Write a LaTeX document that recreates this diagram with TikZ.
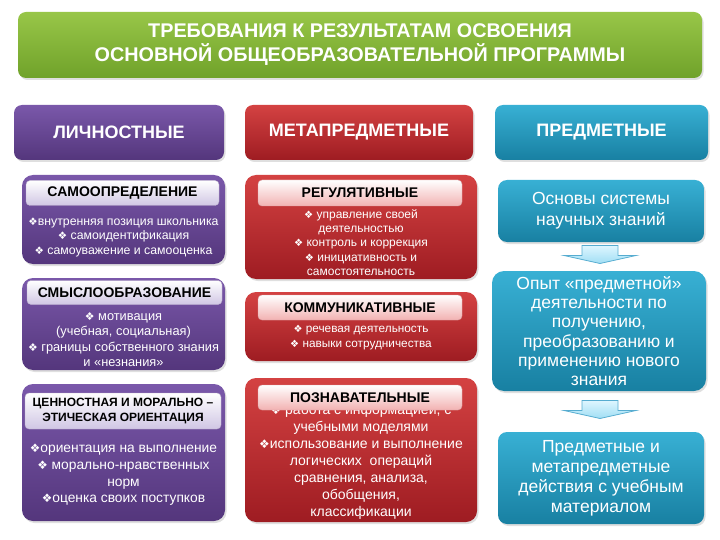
\documentclass[tikz,border=0pt]{standalone}
\usepackage{fontspec}
\setmainfont{Liberation Sans}
\newfontfamily\dejavu{DejaVu Sans}
\usetikzlibrary{calc,shadows}

\definecolor{grntop}{RGB}{152,198,72}
\definecolor{grnbot}{RGB}{112,162,42}
\definecolor{purtop}{RGB}{122,88,170}
\definecolor{purbot}{RGB}{84,54,124}
\definecolor{redtop}{RGB}{212,66,66}
\definecolor{redbot}{RGB}{158,28,34}
\definecolor{blutop}{RGB}{56,176,212}
\definecolor{blubot}{RGB}{24,128,162}
\definecolor{purlab}{RGB}{208,198,228}
\definecolor{redlab}{RGB}{242,178,178}
\definecolor{arrtop}{RGB}{222,246,255}
\definecolor{arrbot}{RGB}{160,222,244}
\definecolor{arrline}{RGB}{86,172,208}

\newcommand{\bul}{\scalebox{0.85}{\dejavu ❖}}

\begin{document}
\begin{tikzpicture}[x=1pt,y=-1pt,
    panel/.style={rounded corners=8pt, align=center, inner sep=0pt,
      drop shadow={shadow xshift=1.5pt,shadow yshift=-2pt,opacity=0.25}},
    titlebox/.style={panel, top color=grntop, bottom color=grnbot, text=white,
      font=\bfseries\fontsize{19.8}{24}\selectfont},
    head/.style={panel, top color=#1top, bottom color=#1bot, text=white,
      minimum height=55pt, font=\bfseries\fontsize{18}{20}\selectfont},
    body/.style={panel, rounded corners=11pt, top color=#1top, bottom color=#1bot},
    tag/.style={rounded corners=4pt, draw=#1bot!40, top color=white, bottom color=#1lab,
      align=center, inner sep=0pt, text=black, font=\bfseries\fontsize{14}{15}\selectfont},
    items/.style={align=center, inner sep=0pt, text=white},
    blockarr/.style={draw=arrline, top color=arrtop, bottom color=arrbot, line width=0.8pt}]
    \useasboundingbox (0,0) rectangle (720,540);
    % Draw the title
    \node[titlebox, minimum width=684pt, minimum height=66pt] (title) at (360,45)
      {ТРЕБОВАНИЯ К РЕЗУЛЬТАТАМ ОСВОЕНИЯ\\ОСНОВНОЙ ОБЩЕОБРАЗОВАТЕЛЬНОЙ ПРОГРАММЫ};
    % Draw the three headers
    \node[head=pur, minimum width=210pt] (lich) at (119,132.5) {ЛИЧНОСТНЫЕ};
    \node[head=red, minimum width=228pt] (meta) at (359,132.5) {МЕТАПРЕДМЕТНЫЕ};
    \node[head=blu, minimum width=213pt] (pred) at (601.5,132.5) {ПРЕДМЕТНЫЕ};

    % Left column
    \node[body=pur, minimum width=203pt, minimum height=89pt] (l1) at (123.5,219.5) {};
    \node[items, font=\fontsize{12.3}{14.5}\selectfont] (l1t) at (123.5,237)
      {\bul внутренняя позиция школьника\\\bul\ самоидентификация\\\bul\ самоуважение и самооценка};
    \node[tag=pur, minimum width=193pt, minimum height=25pt] (l1h) at (122.5,193) {САМООПРЕДЕЛЕНИЕ};

    \node[body=pur, minimum width=203pt, minimum height=92pt] (l2) at (123.5,324) {};
    \node[items, font=\fontsize{12.8}{15.2}\selectfont] (l2t) at (123.5,339.5)
      {\bul\ мотивация\\(учебная, социальная)\\\bul\ границы собственного знания\\и «незнания»};
    \node[tag=pur, minimum width=195pt, minimum height=24pt] (l2h) at (124.5,292.5) {СМЫСЛООБРАЗОВАНИЕ};

    \node[body=pur, minimum width=203pt, minimum height=137pt] (l3) at (123.5,452.5) {};
    \node[items, font=\fontsize{13.8}{16.7}\selectfont] (l3t) at (123.5,475)
      {\bul ориентация на выполнение\\\bul\ морально-нравственных\\норм\\\bul оценка своих поступков};
    \node[tag=pur, minimum width=196pt, minimum height=36pt,
      font=\bfseries\fontsize{12}{15}\selectfont] (l3h) at (123,411)
      {ЦЕННОСТНАЯ И МОРАЛЬНО –\\ЭТИЧЕСКАЯ ОРИЕНТАЦИЯ};

    % Middle column
    \node[body=red, minimum width=232pt, minimum height=104pt] (m1) at (361,227) {};
    \node[items, font=\fontsize{12}{14.2}\selectfont] (m1t) at (361,242.5)
      {\bul\ управление своей\\деятельностью\\\bul\ контроль и коррекция\\\bul\ инициативность и\\самостоятельность};
    \node[tag=red, minimum width=204pt, minimum height=26pt] (m1h) at (360,193) {РЕГУЛЯТИВНЫЕ};

    \node[body=red, minimum width=232pt, minimum height=69pt] (m2) at (361,326.5) {};
    \node[items, font=\fontsize{11.8}{15}\selectfont] (m2t) at (361,338)
      {\bul\ речевая деятельность\\\bul\ навыки сотрудничества};
    \node[tag=red, minimum width=204pt, minimum height=25pt] (m2h) at (360,307.5) {КОММУНИКАТИВНЫЕ};

    \node[body=red, minimum width=232pt, minimum height=144pt] (m3) at (361,450) {};
    \node[items, font=\fontsize{14}{17}\selectfont] (m3t) at (361,462)
      {\bul\ работа с информацией, с\\учебными моделями\\\bul использование и выполнение\\логических\ \ операций\\сравнения, анализа,\\обобщения,\\классификации};
    \node[tag=red, minimum width=204pt, minimum height=25pt] (m3h) at (360,397.5) {ПОЗНАВАТЕЛЬНЫЕ};

    % Right column
    \node[body=blu, rounded corners=9pt, minimum width=206pt, minimum height=62pt, text=white,
      font=\fontsize{17.5}{21}\selectfont] (ps1) at (601,211) {Основы системы\\научных знаний};
    \node[body=blu, rounded corners=12pt, minimum width=214pt, minimum height=120pt, text=white,
      font=\fontsize{17.5}{19.3}\selectfont] (ps2) at (599,331)
      {Опыт «предметной»\\деятельности по\\получению,\\преобразованию и\\применению нового\\знания};
    \node[body=blu, rounded corners=9pt, minimum width=206pt, minimum height=92pt, text=white,
      font=\fontsize{17.5}{20}\selectfont] (ps3) at (601,478)
      {Предметные и\\метапредметные\\действия с учебным\\материалом};

    % Draw the block arrows
    \coordinate (a1) at ($(ps1.south)!0.5!(ps2.north)$);
    \coordinate (a2) at ($(ps2.south)!0.5!(ps3.north)$);
    \foreach \a in {a1,a2}
      \draw[blockarr] (\a) ++(-18,-11) -- ++(36,0) -- ++(0,10) -- ++(18,0)
        -- ++(-36,8) -- ++(-36,-8) -- ++(18,0) -- cycle;
\end{tikzpicture}
\end{document}
